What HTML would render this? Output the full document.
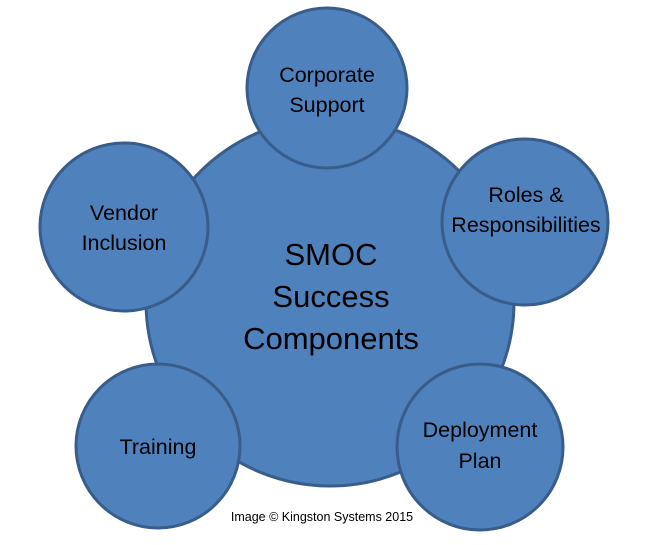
<!DOCTYPE html>
<html><head><style>
html,body{margin:0;padding:0;background:#fff;}
svg{display:block;}
text{font-family:"Liberation Sans",sans-serif;fill:#000;text-anchor:middle;}
</style></head><body>
<svg width="650" height="545" viewBox="0 0 650 545">
<g fill="#4f81bd" stroke="#385d8a" stroke-width="3">
<circle cx="330" cy="302" r="184"/>
<circle cx="327" cy="88" r="80"/>
<circle cx="525" cy="222" r="83"/>
<circle cx="124" cy="227" r="84"/>
<circle cx="158" cy="446" r="82"/>
<circle cx="480" cy="447" r="83"/>
</g>
<g font-size="21.5">
<text x="327" y="82">Corporate</text>
<text x="327" y="112">Support</text>
<text x="526" y="202">Roles &amp;</text>
<text x="526" y="232">Responsibilities</text>
<text x="124" y="220">Vendor</text>
<text x="124" y="250">Inclusion</text>
<text x="158" y="454">Training</text>
<text x="480" y="437">Deployment</text>
<text x="480" y="468">Plan</text>
</g>
<g font-size="31">
<text x="331" y="265">SMOC</text>
<text x="331" y="307">Success</text>
<text x="331" y="349">Components</text>
</g>
<text x="322" y="521" font-size="12.5">Image © Kingston Systems 2015</text>
</svg>
</body></html>
